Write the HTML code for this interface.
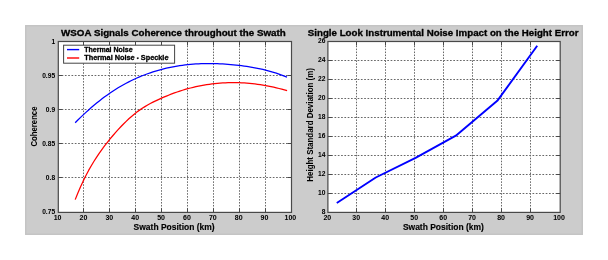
<!DOCTYPE html>
<html><head><meta charset="utf-8"><style>html,body{margin:0;padding:0;background:#fff;width:608px;height:260px;overflow:hidden} text{stroke:#000;stroke-width:0.15px;stroke-linejoin:round} text.t{stroke-width:0.03px} text.ti{stroke-width:0.32px} text.yl{stroke-width:0.02px} text.lg{stroke-width:0.3px}</style></head>
<body>
<svg width="608" height="260" viewBox="0 0 608 260" style="display:block" font-family='"Liberation Sans", sans-serif' font-weight="bold" fill="#000">
<defs><filter id="b" x="0" y="0" width="1" height="1"><feGaussianBlur stdDeviation="0.5"/></filter></defs>
<g filter="url(#b)">
<rect width="608" height="260" fill="#fff"/>
<rect x="25" y="25" width="558" height="210" fill="#ccc"/>
<rect x="25.8" y="25.8" width="556.4" height="208.4" fill="none" stroke="#c4c4c4" stroke-width="1.4"/>
<rect x="58.3" y="41.5" width="233.2" height="170.9" fill="#fff"/>
<line x1="83.50" y1="212.4" x2="83.50" y2="41.5" stroke="#686868" stroke-width="1" stroke-dasharray="1.55 1.4"/>
<line x1="109.50" y1="212.4" x2="109.50" y2="41.5" stroke="#686868" stroke-width="1" stroke-dasharray="1.55 1.4"/>
<line x1="135.50" y1="212.4" x2="135.50" y2="41.5" stroke="#686868" stroke-width="1" stroke-dasharray="1.55 1.4"/>
<line x1="161.50" y1="212.4" x2="161.50" y2="41.5" stroke="#686868" stroke-width="1" stroke-dasharray="1.55 1.4"/>
<line x1="187.50" y1="212.4" x2="187.50" y2="41.5" stroke="#686868" stroke-width="1" stroke-dasharray="1.55 1.4"/>
<line x1="213.50" y1="212.4" x2="213.50" y2="41.5" stroke="#686868" stroke-width="1" stroke-dasharray="1.55 1.4"/>
<line x1="239.50" y1="212.4" x2="239.50" y2="41.5" stroke="#686868" stroke-width="1" stroke-dasharray="1.55 1.4"/>
<line x1="265.50" y1="212.4" x2="265.50" y2="41.5" stroke="#686868" stroke-width="1" stroke-dasharray="1.55 1.4"/>
<line x1="58.3" y1="177.50" x2="291.5" y2="177.50" stroke="#686868" stroke-width="1" stroke-dasharray="1.7 1.6"/>
<line x1="58.3" y1="143.50" x2="291.5" y2="143.50" stroke="#686868" stroke-width="1" stroke-dasharray="1.7 1.6"/>
<line x1="58.3" y1="109.50" x2="291.5" y2="109.50" stroke="#686868" stroke-width="1" stroke-dasharray="1.7 1.6"/>
<line x1="58.3" y1="75.50" x2="291.5" y2="75.50" stroke="#686868" stroke-width="1" stroke-dasharray="1.7 1.6"/>
<line x1="83.50" y1="212.4" x2="83.50" y2="208.4" stroke="#484848"/>
<line x1="83.50" y1="41.5" x2="83.50" y2="45.5" stroke="#484848"/>
<line x1="109.50" y1="212.4" x2="109.50" y2="208.4" stroke="#484848"/>
<line x1="109.50" y1="41.5" x2="109.50" y2="45.5" stroke="#484848"/>
<line x1="135.50" y1="212.4" x2="135.50" y2="208.4" stroke="#484848"/>
<line x1="135.50" y1="41.5" x2="135.50" y2="45.5" stroke="#484848"/>
<line x1="161.50" y1="212.4" x2="161.50" y2="208.4" stroke="#484848"/>
<line x1="161.50" y1="41.5" x2="161.50" y2="45.5" stroke="#484848"/>
<line x1="187.50" y1="212.4" x2="187.50" y2="208.4" stroke="#484848"/>
<line x1="187.50" y1="41.5" x2="187.50" y2="45.5" stroke="#484848"/>
<line x1="213.50" y1="212.4" x2="213.50" y2="208.4" stroke="#484848"/>
<line x1="213.50" y1="41.5" x2="213.50" y2="45.5" stroke="#484848"/>
<line x1="239.50" y1="212.4" x2="239.50" y2="208.4" stroke="#484848"/>
<line x1="239.50" y1="41.5" x2="239.50" y2="45.5" stroke="#484848"/>
<line x1="265.50" y1="212.4" x2="265.50" y2="208.4" stroke="#484848"/>
<line x1="265.50" y1="41.5" x2="265.50" y2="45.5" stroke="#484848"/>
<line x1="58.3" y1="177.50" x2="62.3" y2="177.50" stroke="#484848"/>
<line x1="291.5" y1="177.50" x2="287.5" y2="177.50" stroke="#484848"/>
<line x1="58.3" y1="143.50" x2="62.3" y2="143.50" stroke="#484848"/>
<line x1="291.5" y1="143.50" x2="287.5" y2="143.50" stroke="#484848"/>
<line x1="58.3" y1="109.50" x2="62.3" y2="109.50" stroke="#484848"/>
<line x1="291.5" y1="109.50" x2="287.5" y2="109.50" stroke="#484848"/>
<line x1="58.3" y1="75.50" x2="62.3" y2="75.50" stroke="#484848"/>
<line x1="291.5" y1="75.50" x2="287.5" y2="75.50" stroke="#484848"/>
<rect x="58.3" y="41.5" width="233.2" height="170.9" fill="none" stroke="#484848" stroke-width="1.2"/>
<text class="t" x="57.60" y="219.9" font-size="7.0" text-anchor="middle">10</text>
<text class="t" x="83.46" y="219.9" font-size="7.0" text-anchor="middle">20</text>
<text class="t" x="109.33" y="219.9" font-size="7.0" text-anchor="middle">30</text>
<text class="t" x="135.19" y="219.9" font-size="7.0" text-anchor="middle">40</text>
<text class="t" x="161.05" y="219.9" font-size="7.0" text-anchor="middle">50</text>
<text class="t" x="186.91" y="219.9" font-size="7.0" text-anchor="middle">60</text>
<text class="t" x="212.78" y="219.9" font-size="7.0" text-anchor="middle">70</text>
<text class="t" x="238.64" y="219.9" font-size="7.0" text-anchor="middle">80</text>
<text class="t" x="264.50" y="219.9" font-size="7.0" text-anchor="middle">90</text>
<text class="t" x="290.37" y="219.9" font-size="7.0" text-anchor="middle">100</text>
<text class="t" transform="translate(55.10,213.80) scale(0.9,1)" font-size="7.4" text-anchor="end">0.75</text>
<text class="t" transform="translate(55.10,179.75) scale(0.9,1)" font-size="7.4" text-anchor="end">0.8</text>
<text class="t" transform="translate(55.10,145.70) scale(0.9,1)" font-size="7.4" text-anchor="end">0.85</text>
<text class="t" transform="translate(55.10,111.65) scale(0.9,1)" font-size="7.4" text-anchor="end">0.9</text>
<text class="t" transform="translate(55.10,77.60) scale(0.9,1)" font-size="7.4" text-anchor="end">0.95</text>
<text class="t" transform="translate(55.10,43.55) scale(0.9,1)" font-size="7.4" text-anchor="end">1</text>
<polyline points="75.20,122.69 77.88,120.00 80.56,117.38 83.24,114.83 85.92,112.34 88.61,109.92 91.29,107.57 93.97,105.29 96.65,103.08 99.33,100.93 102.01,98.85 104.69,96.84 107.37,94.90 110.05,93.03 112.73,91.23 115.42,89.49 118.10,87.83 120.78,86.23 123.46,84.70 126.14,83.24 128.82,81.84 131.50,80.50 134.18,79.22 136.86,78.01 139.54,76.85 142.23,75.75 144.91,74.71 147.59,73.72 150.27,72.79 152.95,71.91 155.63,71.07 158.31,70.29 160.99,69.56 163.67,68.87 166.35,68.23 169.04,67.63 171.72,67.08 174.40,66.57 177.08,66.11 179.76,65.68 182.44,65.30 185.12,64.96 187.80,64.66 190.48,64.39 193.16,64.17 195.85,63.98 198.53,63.83 201.21,63.71 203.89,63.63 206.57,63.58 209.25,63.57 211.93,63.59 214.61,63.64 217.29,63.72 219.97,63.83 222.66,63.98 225.34,64.15 228.02,64.34 230.70,64.57 233.38,64.82 236.06,65.10 238.74,65.40 241.42,65.72 244.10,66.08 246.78,66.46 249.47,66.87 252.15,67.31 254.83,67.79 257.51,68.31 260.19,68.87 262.87,69.47 265.55,70.12 268.23,70.81 270.91,71.55 273.59,72.35 276.28,73.19 278.96,74.10 281.64,75.06 284.32,76.09 287.00,77.18" fill="none" stroke="#0000ff" stroke-width="1.25" stroke-linejoin="round" stroke-linecap="butt"/>
<polyline points="75.20,199.62 77.88,192.92 80.56,186.69 83.25,180.89 85.93,175.48 88.61,170.43 91.29,165.71 93.98,161.27 96.66,157.09 99.34,153.13 102.02,149.35 104.71,145.74 107.39,142.28 110.07,138.96 112.75,135.76 115.43,132.67 118.12,129.67 120.80,126.78 123.48,124.00 126.16,121.35 128.85,118.82 131.53,116.43 134.21,114.18 136.89,112.08 139.57,110.13 142.26,108.32 144.94,106.63 147.62,105.05 150.30,103.57 152.99,102.17 155.67,100.84 158.35,99.57 161.03,98.35 163.72,97.18 166.40,96.05 169.08,94.97 171.76,93.94 174.44,92.95 177.13,92.01 179.81,91.12 182.49,90.27 185.17,89.47 187.86,88.71 190.54,88.00 193.22,87.33 195.90,86.71 198.58,86.13 201.27,85.60 203.95,85.11 206.63,84.67 209.31,84.27 212.00,83.91 214.68,83.60 217.36,83.33 220.04,83.10 222.73,82.92 225.41,82.77 228.09,82.67 230.77,82.61 233.45,82.60 236.14,82.62 238.82,82.69 241.50,82.80 244.18,82.95 246.87,83.13 249.55,83.36 252.23,83.63 254.91,83.94 257.59,84.29 260.28,84.68 262.96,85.11 265.64,85.58 268.32,86.08 271.01,86.63 273.69,87.21 276.37,87.83 279.05,88.49 281.74,89.19 284.42,89.92 287.10,90.70" fill="none" stroke="#ff0000" stroke-width="1.25" stroke-linejoin="round" stroke-linecap="butt"/>
<rect x="63.6" y="45.2" width="111" height="18" fill="#fff" stroke="#444" stroke-width="1"/>
<line x1="67" y1="49.6" x2="79.2" y2="49.6" stroke="#0000ff" stroke-width="1.4"/>
<line x1="67" y1="58" x2="79.2" y2="58" stroke="#ff0000" stroke-width="1.4"/>
<text class="lg" x="84.2" y="52.2" font-size="7" textLength="48.4" lengthAdjust="spacingAndGlyphs">Thermal Noise</text>
<text class="lg" x="84.2" y="59.95" font-size="7" textLength="84.3" lengthAdjust="spacingAndGlyphs">Thermal Noise <tspan font-size="5.5">•</tspan> Speckle</text>
<text class="ti" x="61.1" y="35.5" font-size="9.7" textLength="224.7" lengthAdjust="spacingAndGlyphs">WSOA Signals Coherence throughout the Swath</text>
<text x="133.6" y="229.7" font-size="8.5" textLength="81" lengthAdjust="spacingAndGlyphs">Swath Position (km)</text>
<text class="yl" transform="translate(36.8,146.6) rotate(-90)" x="0" y="0" font-size="8.5" textLength="40.1" lengthAdjust="spacingAndGlyphs">Coherence</text>
<rect x="327.9" y="41.5" width="232.30000000000007" height="170.9" fill="#fff"/>
<line x1="356.50" y1="212.4" x2="356.50" y2="41.5" stroke="#686868" stroke-width="1" stroke-dasharray="1.55 1.4"/>
<line x1="385.50" y1="212.4" x2="385.50" y2="41.5" stroke="#686868" stroke-width="1" stroke-dasharray="1.55 1.4"/>
<line x1="414.50" y1="212.4" x2="414.50" y2="41.5" stroke="#686868" stroke-width="1" stroke-dasharray="1.55 1.4"/>
<line x1="443.50" y1="212.4" x2="443.50" y2="41.5" stroke="#686868" stroke-width="1" stroke-dasharray="1.55 1.4"/>
<line x1="472.50" y1="212.4" x2="472.50" y2="41.5" stroke="#686868" stroke-width="1" stroke-dasharray="1.55 1.4"/>
<line x1="501.50" y1="212.4" x2="501.50" y2="41.5" stroke="#686868" stroke-width="1" stroke-dasharray="1.55 1.4"/>
<line x1="530.50" y1="212.4" x2="530.50" y2="41.5" stroke="#686868" stroke-width="1" stroke-dasharray="1.55 1.4"/>
<line x1="327.9" y1="193.50" x2="560.2" y2="193.50" stroke="#686868" stroke-width="1" stroke-dasharray="1.7 1.6"/>
<line x1="327.9" y1="174.50" x2="560.2" y2="174.50" stroke="#686868" stroke-width="1" stroke-dasharray="1.7 1.6"/>
<line x1="327.9" y1="155.50" x2="560.2" y2="155.50" stroke="#686868" stroke-width="1" stroke-dasharray="1.7 1.6"/>
<line x1="327.9" y1="136.50" x2="560.2" y2="136.50" stroke="#686868" stroke-width="1" stroke-dasharray="1.7 1.6"/>
<line x1="327.9" y1="117.50" x2="560.2" y2="117.50" stroke="#686868" stroke-width="1" stroke-dasharray="1.7 1.6"/>
<line x1="327.9" y1="98.50" x2="560.2" y2="98.50" stroke="#686868" stroke-width="1" stroke-dasharray="1.7 1.6"/>
<line x1="327.9" y1="79.50" x2="560.2" y2="79.50" stroke="#686868" stroke-width="1" stroke-dasharray="1.7 1.6"/>
<line x1="327.9" y1="60.50" x2="560.2" y2="60.50" stroke="#686868" stroke-width="1" stroke-dasharray="1.7 1.6"/>
<line x1="356.50" y1="212.4" x2="356.50" y2="208.4" stroke="#484848"/>
<line x1="356.50" y1="41.5" x2="356.50" y2="45.5" stroke="#484848"/>
<line x1="385.50" y1="212.4" x2="385.50" y2="208.4" stroke="#484848"/>
<line x1="385.50" y1="41.5" x2="385.50" y2="45.5" stroke="#484848"/>
<line x1="414.50" y1="212.4" x2="414.50" y2="208.4" stroke="#484848"/>
<line x1="414.50" y1="41.5" x2="414.50" y2="45.5" stroke="#484848"/>
<line x1="443.50" y1="212.4" x2="443.50" y2="208.4" stroke="#484848"/>
<line x1="443.50" y1="41.5" x2="443.50" y2="45.5" stroke="#484848"/>
<line x1="472.50" y1="212.4" x2="472.50" y2="208.4" stroke="#484848"/>
<line x1="472.50" y1="41.5" x2="472.50" y2="45.5" stroke="#484848"/>
<line x1="501.50" y1="212.4" x2="501.50" y2="208.4" stroke="#484848"/>
<line x1="501.50" y1="41.5" x2="501.50" y2="45.5" stroke="#484848"/>
<line x1="530.50" y1="212.4" x2="530.50" y2="208.4" stroke="#484848"/>
<line x1="530.50" y1="41.5" x2="530.50" y2="45.5" stroke="#484848"/>
<line x1="327.9" y1="193.50" x2="331.9" y2="193.50" stroke="#484848"/>
<line x1="560.2" y1="193.50" x2="556.2" y2="193.50" stroke="#484848"/>
<line x1="327.9" y1="174.50" x2="331.9" y2="174.50" stroke="#484848"/>
<line x1="560.2" y1="174.50" x2="556.2" y2="174.50" stroke="#484848"/>
<line x1="327.9" y1="155.50" x2="331.9" y2="155.50" stroke="#484848"/>
<line x1="560.2" y1="155.50" x2="556.2" y2="155.50" stroke="#484848"/>
<line x1="327.9" y1="136.50" x2="331.9" y2="136.50" stroke="#484848"/>
<line x1="560.2" y1="136.50" x2="556.2" y2="136.50" stroke="#484848"/>
<line x1="327.9" y1="117.50" x2="331.9" y2="117.50" stroke="#484848"/>
<line x1="560.2" y1="117.50" x2="556.2" y2="117.50" stroke="#484848"/>
<line x1="327.9" y1="98.50" x2="331.9" y2="98.50" stroke="#484848"/>
<line x1="560.2" y1="98.50" x2="556.2" y2="98.50" stroke="#484848"/>
<line x1="327.9" y1="79.50" x2="331.9" y2="79.50" stroke="#484848"/>
<line x1="560.2" y1="79.50" x2="556.2" y2="79.50" stroke="#484848"/>
<line x1="327.9" y1="60.50" x2="331.9" y2="60.50" stroke="#484848"/>
<line x1="560.2" y1="60.50" x2="556.2" y2="60.50" stroke="#484848"/>
<rect x="327.9" y="41.5" width="232.30000000000007" height="170.9" fill="none" stroke="#484848" stroke-width="1.2"/>
<text class="t" x="327.30" y="219.9" font-size="7.0" text-anchor="middle">20</text>
<text class="t" x="356.27" y="219.9" font-size="7.0" text-anchor="middle">30</text>
<text class="t" x="385.23" y="219.9" font-size="7.0" text-anchor="middle">40</text>
<text class="t" x="414.20" y="219.9" font-size="7.0" text-anchor="middle">50</text>
<text class="t" x="443.17" y="219.9" font-size="7.0" text-anchor="middle">60</text>
<text class="t" x="472.13" y="219.9" font-size="7.0" text-anchor="middle">70</text>
<text class="t" x="501.10" y="219.9" font-size="7.0" text-anchor="middle">80</text>
<text class="t" x="530.07" y="219.9" font-size="7.0" text-anchor="middle">90</text>
<text class="t" x="559.04" y="219.9" font-size="7.0" text-anchor="middle">100</text>
<text class="t" transform="translate(325.50,214.46) scale(0.9,1)" font-size="7.4" text-anchor="end">8</text>
<text class="t" transform="translate(325.50,195.46) scale(0.9,1)" font-size="7.4" text-anchor="end">10</text>
<text class="t" transform="translate(325.50,176.46) scale(0.9,1)" font-size="7.4" text-anchor="end">12</text>
<text class="t" transform="translate(325.50,157.46) scale(0.9,1)" font-size="7.4" text-anchor="end">14</text>
<text class="t" transform="translate(325.50,138.46) scale(0.9,1)" font-size="7.4" text-anchor="end">16</text>
<text class="t" transform="translate(325.50,119.46) scale(0.9,1)" font-size="7.4" text-anchor="end">18</text>
<text class="t" transform="translate(325.50,100.46) scale(0.9,1)" font-size="7.4" text-anchor="end">20</text>
<text class="t" transform="translate(325.50,81.46) scale(0.9,1)" font-size="7.4" text-anchor="end">22</text>
<text class="t" transform="translate(325.50,62.46) scale(0.9,1)" font-size="7.4" text-anchor="end">24</text>
<text class="t" transform="translate(325.50,43.46) scale(0.9,1)" font-size="7.4" text-anchor="end">26</text>
<polyline points="336.78,202.96 375.77,177.50 415.57,157.84 455.83,135.70 497.26,100.84 537.23,45.74" fill="none" stroke="#0000ff" stroke-width="1.9" stroke-linejoin="round" stroke-linecap="butt"/>
<text class="ti" x="307.8" y="35.5" font-size="9.7" textLength="270.7" lengthAdjust="spacingAndGlyphs">Single Look Instrumental Noise Impact on the Height Error</text>
<text x="402.9" y="229.7" font-size="8.5" textLength="81" lengthAdjust="spacingAndGlyphs">Swath Position (km)</text>
<text class="yl" transform="translate(312.6,181.7) rotate(-90)" x="0" y="0" font-size="8.5" textLength="113.6" lengthAdjust="spacingAndGlyphs">Height Standard Deviation (m)</text>
</g></svg>
</body></html>
